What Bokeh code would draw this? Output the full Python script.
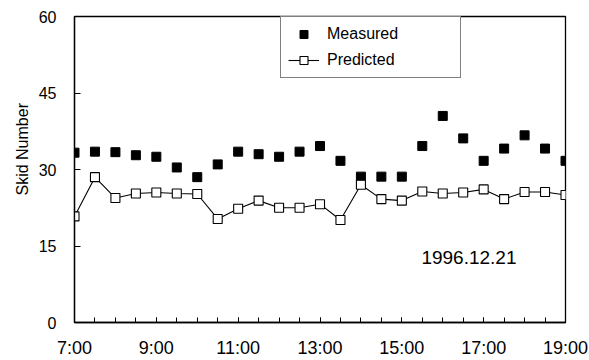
from bokeh.plotting import figure
from bokeh.models import Range1d, FixedTicker, Label, Legend, LegendItem, Title
from bokeh.embed import file_html
from bokeh.resources import INLINE

# ---- data ----
times = [7.0, 7.5, 8.0, 8.5, 9.0, 9.5, 10.0, 10.5, 11.0, 11.5, 12.0, 12.5,
         13.0, 13.5, 14.0, 14.5, 15.0, 15.5, 16.0, 16.5, 17.0, 17.5, 18.0, 18.5, 19.0]
measured = [33.3, 33.5, 33.4, 32.8, 32.5, 30.4, 28.5, 31.0, 33.5, 33.0, 32.5, 33.5,
            34.6, 31.7, 28.6, 28.6, 28.6, 34.6, 40.5, 36.1, 31.7, 34.1, 36.7, 34.1, 31.7]
predicted = [20.8, 28.5, 24.4, 25.3, 25.5, 25.3, 25.2, 20.3, 22.3, 23.9, 22.5, 22.5,
             23.2, 20.1, 27.0, 24.2, 23.9, 25.7, 25.3, 25.5, 26.1, 24.2, 25.6, 25.6, 25.0]
x_ticks = [7, 9, 11, 13, 15, 17, 19]
x_tick_labels = ["7:00", "9:00", "11:00", "13:00", "15:00", "17:00", "19:00"]
y_ticks = [0, 15, 30, 45, 60]
date_text = "1996.12.21"

FONT = "Liberation Sans"

p = figure(width=589, height=360, output_backend="svg", toolbar_location=None,
           x_range=Range1d(7, 19), y_range=Range1d(0, 60),
           min_border_left=74, min_border_right=24, min_border_top=16,
           min_border_bottom=37)
p.background_fill_color = "white"
p.border_fill_color = "white"
p.outline_line_color = "black"
p.outline_line_width = 1.3
p.xgrid.visible = False
p.ygrid.visible = False

# x axis
xa = p.xaxis[0]
xa.ticker = FixedTicker(ticks=x_ticks, minor_ticks=times)
xa.major_label_overrides = {t: l for t, l in zip(x_ticks, x_tick_labels)}
xa.major_tick_in = 5
xa.major_tick_out = 0
xa.minor_tick_in = 5
xa.minor_tick_out = 0
xa.major_label_standoff = 15
xa.major_label_text_font = FONT
xa.major_label_text_font_size = "18px"
xa.major_label_text_color = "black"
xa.axis_line_width = 1.3
xa.axis_line_color = "black"
xa.major_tick_line_color = "black"
xa.minor_tick_line_color = "black"

# y axis
ya = p.yaxis[0]
ya.ticker = FixedTicker(ticks=y_ticks, minor_ticks=[])
ya.major_tick_in = 6
ya.major_tick_out = 0
ya.minor_tick_in = 0
ya.minor_tick_out = 0
ya.major_label_standoff = 18
ya.major_label_text_font = FONT
ya.major_label_text_font_size = "16px"
ya.major_label_text_color = "black"
ya.axis_line_width = 1.3
ya.axis_line_color = "black"

# series
r_meas = p.scatter(times, measured, marker="square", size=9,
                   fill_color="black", line_color="black")
r_line = p.line(times, predicted, line_color="black", line_width=1.1)
r_pred = p.scatter(times, predicted, marker="square", size=9,
                   fill_color="white", line_color="black", line_width=1.1)

legend = Legend(items=[
    LegendItem(label="Measured", renderers=[r_meas]),
    LegendItem(label="Predicted", renderers=[r_line, r_pred]),
], location=(206, 244))
legend.label_text_font = FONT
legend.label_text_font_size = "16px"
legend.label_text_color = "black"
legend.glyph_width = 31
legend.glyph_height = 20
legend.label_height = 20
legend.label_standoff = 8
legend.label_width = 126
legend.spacing = 6
legend.padding = 7
legend.margin = 0
legend.border_line_color = "black"
legend.border_line_width = 1.3
legend.background_fill_alpha = 1
p.add_layout(legend)

# date annotation
p.add_layout(Label(x=16.64, y=12.7, text=date_text, text_align="center",
                   text_baseline="middle", text_font=FONT,
                   text_font_size="19px", text_color="black"))

# y axis title
p.add_layout(Title(text="Skid Number", align="left", offset=127,
                   text_font=FONT, text_font_size="16px",
                   text_font_style="normal", text_color="black",
                   standoff=10), "left")

open("out.html", "w").write(file_html(p, INLINE))
